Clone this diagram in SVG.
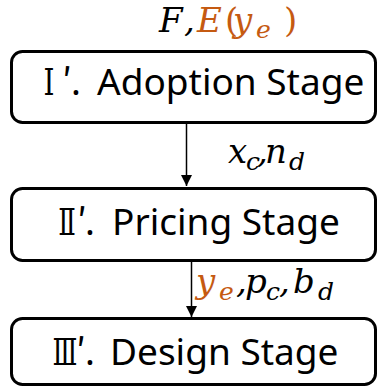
<svg xmlns="http://www.w3.org/2000/svg" width="377" height="390" viewBox="0 0 377 390">
  <style>
    .box { fill: #ffffff; stroke: #000000; stroke-width: 3; }
    .edge { stroke: #000000; stroke-width: 1.5; fill: none; marker-end: url(#head); }
    .label { font-family: "Noto Sans", "Noto Sans CJK JP", sans-serif; font-size: 37px; fill: #000000; }
    .num { font-family: "DejaVu Serif", "Noto Sans CJK JP", serif; font-size: 37px; fill: #000000; text-anchor: middle; }
    .prime { font-family: "Noto Sans CJK JP", sans-serif; }
    .math { font-family: "DejaVu Serif", "Liberation Serif", serif; font-style: italic; font-size: 34px; fill: #000000; }
    .sub { font-size: 25px; }
    .up { font-style: normal; }
    .hi { fill: #C55A11; }
  </style>
  <defs>
    <marker id="head" markerUnits="userSpaceOnUse" markerWidth="12" markerHeight="12" refX="11" refY="5.5" orient="auto">
      <path d="M0,0 L11,5.5 L0,11 Z" fill="#000000"/>
    </marker>
  </defs>

  <!-- connectors -->
  <g id="connectors">
    <line class="edge" x1="186.5" y1="123" x2="186.5" y2="186"/>
    <line class="edge" x1="191.5" y1="261" x2="191.5" y2="317"/>
  </g>

  <!-- inputs of the first stage -->
  <g id="input-label">
    <text class="math" y="32">
      <tspan x="159">F</tspan><tspan x="184">,</tspan><tspan x="197" class="hi">E</tspan><tspan x="225" class="hi up">(</tspan><tspan x="233" class="hi">y</tspan><tspan x="256" y="38" class="hi sub">e</tspan><tspan x="284" y="32" class="hi up">)</tspan>
    </text>
  </g>

  <g id="stage-adoption">
    <rect class="box" x="11.5" y="51.5" width="364" height="71" rx="11"/>
    <text class="num" transform="translate(49 95) scale(0.75 1)">Ⅰ</text>
    <text class="label" y="95">
      <tspan class="prime" x="67" text-anchor="middle">′</tspan><tspan x="71">.</tspan><tspan x="97">Adoption Stage</tspan>
    </text>
  </g>

  <g id="label-1-2">
    <text class="math" y="163">
      <tspan x="228">x</tspan><tspan x="246" y="170" class="sub">c</tspan><tspan x="257" y="163">,</tspan><tspan x="265">n</tspan><tspan x="289" y="170" class="sub">d</tspan>
    </text>
  </g>

  <g id="stage-pricing">
    <rect class="box" x="11.5" y="188.5" width="364" height="72" rx="11"/>
    <text class="num" transform="translate(67 235) scale(0.7 1)">Ⅱ</text>
    <text class="label" y="235">
      <tspan class="prime" x="82" text-anchor="middle">′</tspan><tspan x="85">.</tspan><tspan x="112">Pricing Stage</tspan>
    </text>
  </g>

  <g id="label-2-3">
    <text class="math" y="293">
      <tspan x="196" class="hi">y</tspan><tspan x="219" y="300" class="hi sub">e</tspan><tspan x="236" y="293">,</tspan><tspan x="245">p</tspan><tspan x="266" y="300" class="sub">c</tspan><tspan x="279" y="293">,</tspan><tspan x="293">b</tspan><tspan x="318" y="300" class="sub">d</tspan>
    </text>
  </g>

  <g id="stage-design">
    <rect class="box" x="11.5" y="318.5" width="364" height="66" rx="11"/>
    <text class="num" transform="translate(65 365) scale(0.7 1)">Ⅲ</text>
    <text class="label" y="365">
      <tspan class="prime" x="81" text-anchor="middle">′</tspan><tspan x="85">.</tspan><tspan x="110">Design Stage</tspan>
    </text>
  </g>
</svg>
